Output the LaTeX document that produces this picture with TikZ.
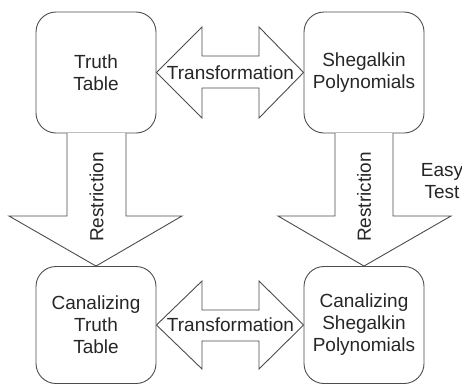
\documentclass[tikz,border=0pt]{standalone}
\usepackage{fontspec}
\setmainfont{Liberation Sans}
\begin{document}
\begin{tikzpicture}[x=1pt,y=-1pt,
  every node/.style={font=\fontsize{19}{22}\selectfont, text=black!85},
  box/.style={draw=black!70, line width=0.9pt, rounded corners=20pt, minimum width=120pt, align=center, inner sep=0pt},
  bigarrow/.style={draw=black!70, line width=0.9pt, fill=white, line join=miter},
  lbl/.style={inner sep=0pt}]
\useasboundingbox (0,0) rectangle (462,383);
\node[box, minimum height=121pt] (tt) at (96,72.5) {Truth\\Table};
\node[box, minimum height=121pt] (sp) at (364,72.5) {Shegalkin\\Polynomials};
\node[box, minimum height=117pt] (ct) at (96,325) {Canalizing\\Truth\\Table};
\node[box, minimum height=117pt] (cs) at (364,325) {Canalizing\\Shegalkin\\Polynomials};
% top double arrow
\draw[bigarrow] (tt.east) -- (202,27) -- (202,56) -- (259,56) -- (259,27) -- (sp.west)
  -- (259,118) -- (259,88) -- (202,88) -- (202,118) -- cycle;
\node[lbl] (t1) at (230.5,72.5) {Transformation};
% bottom double arrow
\draw[bigarrow] (ct.east) -- (202,281) -- (202,310) -- (259,310) -- (259,281) -- (cs.west)
  -- (259,369) -- (259,341) -- (202,341) -- (202,369) -- cycle;
\node[lbl] (t2) at (230.5,325) {Transformation};
% left restriction arrow
\draw[bigarrow] (67,133) -- (67,216) -- (9,216) -- (ct.north) -- (182,216) -- (126,216) -- (126,133);
\node[lbl, rotate=90] (r1) at (96.5,197) {Restriction};
% right restriction arrow
\draw[bigarrow] (335,133) -- (335,216) -- (278,216) -- (cs.north) -- (451,216) -- (393,216) -- (393,133);
\node[lbl, rotate=90] (r2) at (364,197) {Restriction};
\node[lbl, align=center] (et) at (442,181.5) {Easy\\Test};
\end{tikzpicture}
\end{document}
